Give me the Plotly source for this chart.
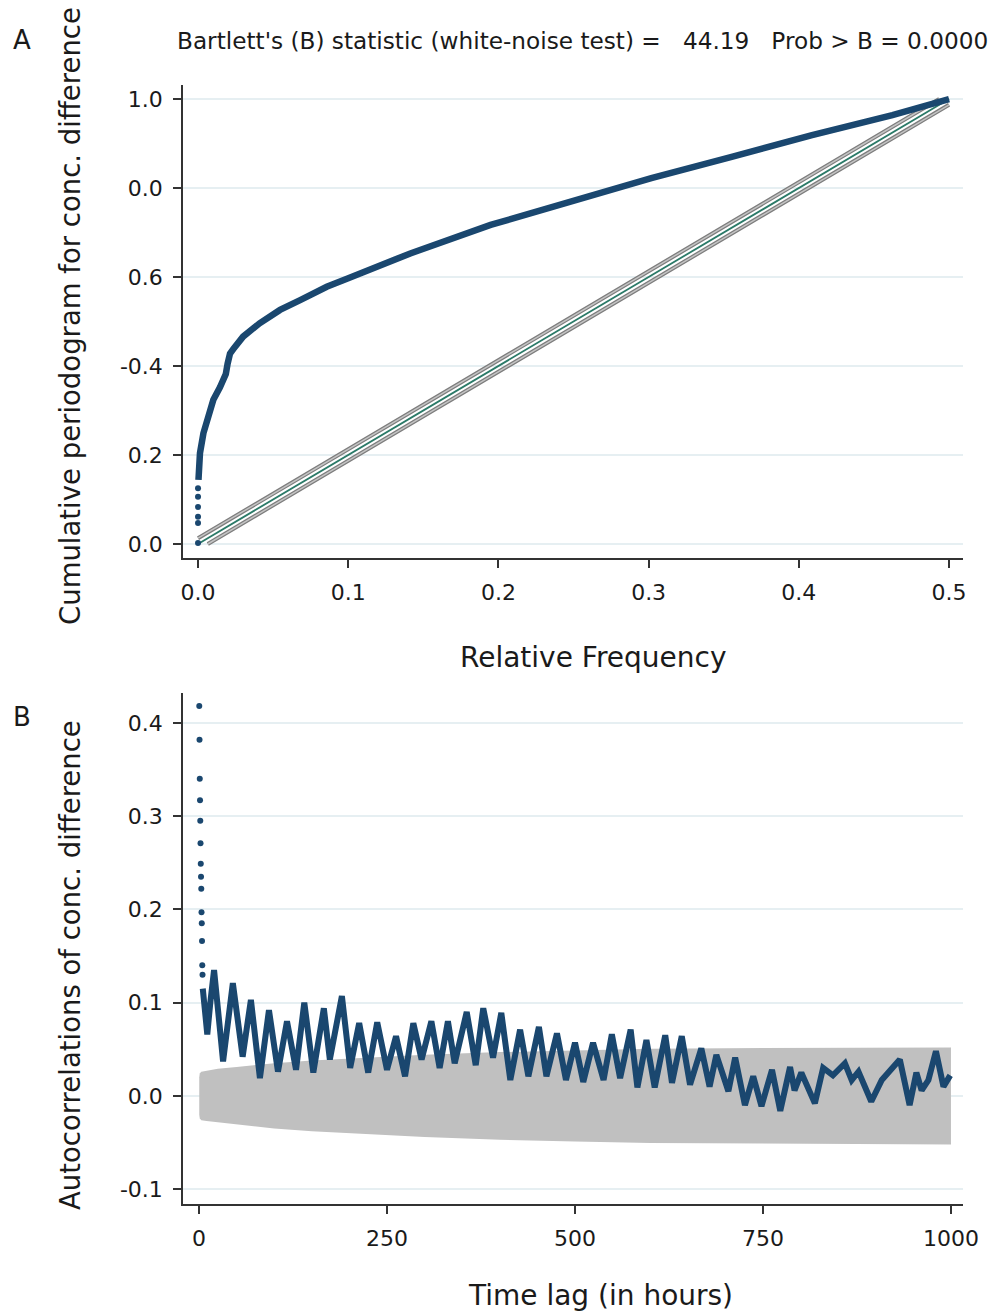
import plotly.graph_objects as go

# ---------------- Panel A: cumulative periodogram ----------------
# points stacked at the lowest frequency
cp_dot_freq = [0.0, 0.0, 0.0, 0.0, 0.0, 0.0]
cp_dot_val = [0.002, 0.047, 0.061, 0.083, 0.106, 0.125]

# cumulative periodogram curve
cp_freq = [0.0003, 0.0013, 0.0036, 0.0069, 0.0102, 0.0146, 0.0185, 0.0197, 0.0213,
           0.0235, 0.030, 0.041, 0.0546, 0.068, 0.0857, 0.100, 0.1413, 0.1948,
           0.2483, 0.3018, 0.3553, 0.4088, 0.4623, 0.500]
cp_val = [0.144, 0.204, 0.249, 0.294, 0.324, 0.352, 0.382, 0.405, 0.428,
          0.438, 0.466, 0.496, 0.526, 0.548, 0.578, 0.597, 0.653, 0.717,
          0.769, 0.822, 0.870, 0.919, 0.964, 1.000]

# white-noise reference line and its confidence bounds
ref_freq = [0.0, 0.5]
ref_val = [0.0, 1.0]
band_c = 0.013
upper_freq = [0.0, 0.5 - band_c / 2]
upper_val = [band_c, 1.0]
lower_freq = [band_c / 2, 0.5]
lower_val = [0.0, 1.0 - band_c]

a_tickvals = [0.0, 0.2, 0.4, 0.6, 0.8, 1.0]
a_ticktext = ["0.0", "0.2", "-0.4", "0.6", "0.0", "1.0"]
a_xtickvals = [0.0, 0.1, 0.2, 0.3, 0.4, 0.5]
a_xticktext = ["0.0", "0.1", "0.2", "0.3", "0.4", "0.5"]

# ---------------- Panel B: autocorrelations ----------------
# first lags, drawn as separate dots
ac_early_lag = [0.33, 0.67, 1.0, 1.33, 1.67, 2.0, 2.33, 2.67, 3.0, 3.33, 3.67, 4.0, 4.33, 4.67]
ac_early_val = [0.418, 0.382, 0.340, 0.317, 0.295, 0.271, 0.249, 0.235, 0.222, 0.197,
                0.185, 0.166, 0.140, 0.130]

# daily oscillation: successive peaks and troughs
ac_lag = [5, 6, 8, 11, 15, 20, 28, 32, 45, 58, 69, 81, 93, 105, 117, 129, 140, 152,
          166, 174, 190, 201, 213, 225, 237, 250, 262, 274, 285, 296, 309, 320,
          331, 340, 356, 368, 378, 391, 402, 414, 427, 438, 452, 462, 476, 488,
          500, 511, 524, 538, 549, 560, 574, 583, 595, 606, 620, 629, 642, 653,
          668, 679, 688, 704, 713, 726, 737, 748, 762, 773, 786, 792, 801, 819,
          830, 843, 859, 868, 877, 886, 894, 908, 932, 945, 954, 961, 970, 980,
          990, 999]
ac_val = [0.115, 0.105, 0.085, 0.066, 0.100, 0.135, 0.070, 0.037, 0.121, 0.042,
          0.103, 0.019, 0.092, 0.026, 0.080, 0.028, 0.100, 0.025, 0.094, 0.039,
          0.107, 0.030, 0.078, 0.025, 0.079, 0.028, 0.064, 0.021, 0.078, 0.039,
          0.080, 0.030, 0.080, 0.035, 0.090, 0.033, 0.094, 0.041, 0.089, 0.017,
          0.071, 0.021, 0.074, 0.021, 0.067, 0.017, 0.057, 0.015, 0.057, 0.017,
          0.066, 0.019, 0.071, 0.009, 0.060, 0.009, 0.065, 0.014, 0.064, 0.012,
          0.051, 0.010, 0.044, 0.005, 0.041, -0.010, 0.021, -0.011, 0.028, -0.016,
          0.031, 0.006, 0.025, -0.008, 0.030, 0.022, 0.035, 0.017, 0.026, 0.010,
          -0.006, 0.017, 0.039, -0.010, 0.025, 0.006, 0.017, 0.048, 0.010, 0.022]

# Bartlett confidence band half-width
band_lag = [0.33, 1, 3, 10, 25, 50, 100, 150, 200, 250, 300, 400, 500, 600, 700, 800, 900, 1000]
band_hw = [0.020, 0.024, 0.026, 0.027, 0.029, 0.031, 0.035, 0.038, 0.040, 0.042,
           0.044, 0.047, 0.049, 0.0505, 0.0512, 0.0515, 0.0518, 0.052]

b_tickvals = [-0.1, 0.0, 0.1, 0.2, 0.3, 0.4]
b_ticktext = ["-0.1", "0.0", "0.1", "0.2", "0.3", "0.4"]
b_xtickvals = [0, 250, 500, 750, 1000]
b_xticktext = ["0", "250", "500", "750", "1000"]

# ---------------- styling ----------------
W, H = 991, 1315
NAVY = "#1a476f"
FONT = "DejaVu Sans, sans-serif"
TXT = "#1a1a1a"
GRID = "#e6eff2"
AX = "#333333"


def px_x(p):
    return p / W


def px_y(p):
    return 1 - p / H


fig = go.Figure()

# Panel A traces
for fx, fy in ((upper_freq, upper_val), (lower_freq, lower_val)):
    fig.add_trace(go.Scatter(x=fx, y=fy, mode="lines", line=dict(color="#7d7d7d", width=4),
                             xaxis="x", yaxis="y", hoverinfo="skip"))
    fig.add_trace(go.Scatter(x=fx, y=fy, mode="lines", line=dict(color="#c4c4c4", width=1.5),
                             xaxis="x", yaxis="y", hoverinfo="skip"))
fig.add_trace(go.Scatter(x=ref_freq, y=ref_val, mode="lines", line=dict(color="#2b7a68", width=1.8),
                         xaxis="x", yaxis="y"))
fig.add_trace(go.Scatter(x=cp_freq, y=cp_val, mode="lines", line=dict(color=NAVY, width=6.5),
                         xaxis="x", yaxis="y"))
fig.add_trace(go.Scatter(x=cp_dot_freq, y=cp_dot_val, mode="markers",
                         marker=dict(color=NAVY, size=6), xaxis="x", yaxis="y"))

# Panel B traces
band_x = band_lag + band_lag[::-1]
band_y = band_hw + [-v for v in band_hw[::-1]]
fig.add_trace(go.Scatter(x=band_x, y=band_y, mode="lines", fill="toself",
                         fillcolor="#c0c0c0", line=dict(width=0, color="#c0c0c0"),
                         xaxis="x2", yaxis="y2"))
fig.add_trace(go.Scatter(x=ac_lag, y=ac_val, mode="lines", line=dict(color=NAVY, width=6),
                         xaxis="x2", yaxis="y2"))
fig.add_trace(go.Scatter(x=ac_early_lag, y=ac_early_val, mode="markers",
                         marker=dict(color=NAVY, size=6), xaxis="x2", yaxis="y2"))

axis_common = dict(showline=True, linecolor=AX, linewidth=1.5, ticks="outside",
                   ticklen=8, tickwidth=1.5, tickcolor=AX, zeroline=False, automargin=False,
                   tickfont=dict(family=FONT, size=22, color=TXT), ticklabelstandoff=6)

xa = [183, 963]
fig.update_layout(
    width=W, height=H, autosize=False, margin=dict(l=0, r=0, t=0, b=0, pad=0),
    paper_bgcolor="white", plot_bgcolor="white", showlegend=False,
    xaxis=dict(domain=[px_x(xa[0]), px_x(xa[1])], range=[-0.0100, 0.5093], anchor="y",
               tickmode="array", tickvals=a_xtickvals, ticktext=a_xticktext,
               showgrid=False, **axis_common),
    yaxis=dict(domain=[px_y(558), px_y(85)], range=[-0.0315, 1.0315], anchor="x",
               tickmode="array", tickvals=a_tickvals, ticktext=a_ticktext,
               showgrid=True, gridcolor=GRID, gridwidth=1.5, **axis_common),
    xaxis2=dict(domain=[px_x(xa[0]), px_x(xa[1])], range=[-21.3, 1016], anchor="y2",
                tickmode="array", tickvals=b_xtickvals, ticktext=b_xticktext,
                showgrid=False, **axis_common),
    yaxis2=dict(domain=[px_y(1204), px_y(693)], range=[-0.1159, 0.432], anchor="x2",
                tickmode="array", tickvals=b_tickvals, ticktext=b_ticktext,
                showgrid=True, gridcolor=GRID, gridwidth=1.5, **axis_common),
)


def label(text, x, y, size, angle=0, xanchor="center"):
    fig.add_annotation(text=text, x=px_x(x), y=px_y(y), xref="paper", yref="paper",
                       showarrow=False, textangle=angle, xanchor=xanchor, yanchor="middle",
                       font=dict(family=FONT, size=size, color=TXT))


label("A", 22, 40, 26)
label("B", 22, 717, 26)
label("Bartlett's (B) statistic (white-noise test) =   44.19   Prob > B = 0.0000",
      175, 40, 23.2, xanchor="left")
label("Cumulative periodogram for conc. difference", 70, 316, 27.5, angle=-90)
label("Relative Frequency", 593, 657, 28)
label("Autocorrelations of conc. difference", 70, 965, 27.5, angle=-90)
label("Time lag (in hours)", 600, 1295, 28)

# keep the page exactly the size of the figure, with no scrollbars
page_fix = (
    "document.documentElement.style.overflow='hidden';"
    "document.documentElement.style.margin='0';"
    "document.body.style.overflow='hidden';"
    "document.body.style.margin='0';"
    "var gd=document.getElementById('{plot_id}');"
    "gd.style.display='block';"
    "Plotly.relayout(gd,{width:%d,height:%d});" % (W, H)
)

fig.write_html("out.html", config={"responsive": False}, post_script=page_fix)
